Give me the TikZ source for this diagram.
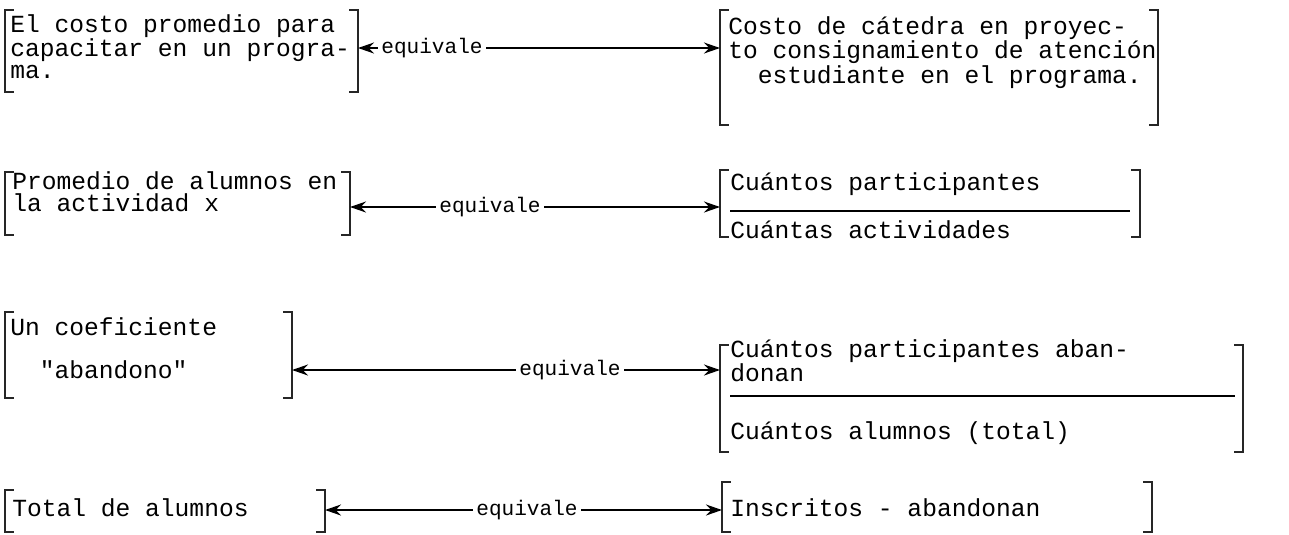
\documentclass[tikz,border=0pt]{standalone}
\usepackage{fontspec}
\setmonofont{Liberation Mono}
\usetikzlibrary{arrows.meta, positioning, fit}

\begin{document}
\begin{tikzpicture}[x=0.2mm, y=-0.2mm,
  brk/.style={inner sep=0pt, outer sep=0pt},
  txt/.style={inner sep=0pt, align=left, anchor=north west, font=\ttfamily\fontsize{14}{12.5}\selectfont},
  eq/.style={inner sep=2pt, font=\ttfamily\fontsize{12}{12}\selectfont},
  arr/.style={line width=1pt, -{Stealth[length=3.2mm, width=2.2mm]}},
  side/.style={line width=0.9pt, black!85}
]
\useasboundingbox (0,0) rectangle (1289,534);

% Fila 1
\node[brk, fit={(5,10) (358,92)}] (L1) {};
\node[txt] (l1) at (10,14) {El costo promedio para\\capacitar en un progra-\\ma.};
\node[eq] (E1) at (432,48) {equivale};
\node[brk, fit={(720,10) (1158,125)}] (R1) {};
\node[txt] (r1) at (728,16) {Costo de cátedra en proyec-\\to consignamiento de atención\\\ \ estudiante en el programa.};

% Fila 2
\node[brk, fit={(5,172) (350,235)}] (L2) {};
\node[txt] (l2) at (12,171) {Promedio de alumnos en\\la actividad x};
\node[eq] (E2) at (490,207) {equivale};
\node[brk, fit={(720,170) (1140,237)}] (R2) {};
\node[txt] (r2) at (730,172) {Cuántos participantes\\\rule{80mm}{1.3pt}\\[2.3pt]Cuántas actividades};

% Fila 3
\node[brk, fit={(5,312) (292,398)}] (L3) {};
\node[txt, align=center] (l3) at (10,317) {Un coeficiente\\[12pt]"abandono"};
\node[eq] (E3) at (570,370) {equivale};
\node[brk, fit={(720,345) (1243,452)}] (R3) {};
\node[txt] (r3) at (730,339) {Cuántos participantes aban-\\donan\\[-4pt]\rule{101mm}{1.3pt}\\[12pt]Cuántos alumnos (total)};

% Fila 4
\node[brk, fit={(5,490) (325,532)}] (L4) {};
\node[txt] (l4) at (12,498) {Total de alumnos};
\node[eq] (E4) at (527,510) {equivale};
\node[brk, fit={(722,482) (1152,532)}] (R4) {};
\node[txt] (r4) at (730,498) {Inscritos - abandonan};

% Corchetes
\foreach \b in {L1,R1,L2,R2,L3,R3,L4,R4}{
  \draw[side] ([xshift=5pt]\b.north west) -- (\b.north west) -- (\b.south west) -- ([xshift=5pt]\b.south west);
  \draw[side] ([xshift=-5pt]\b.north east) -- (\b.north east) -- (\b.south east) -- ([xshift=-5pt]\b.south east);
}

% Flechas
\foreach \i in {1,2,3,4}{
  \draw[arr] (E\i.west) -- (E\i.west -| L\i.east);
  \draw[arr] (E\i.east) -- (E\i.east -| R\i.west);
}

\end{tikzpicture}
\end{document}
